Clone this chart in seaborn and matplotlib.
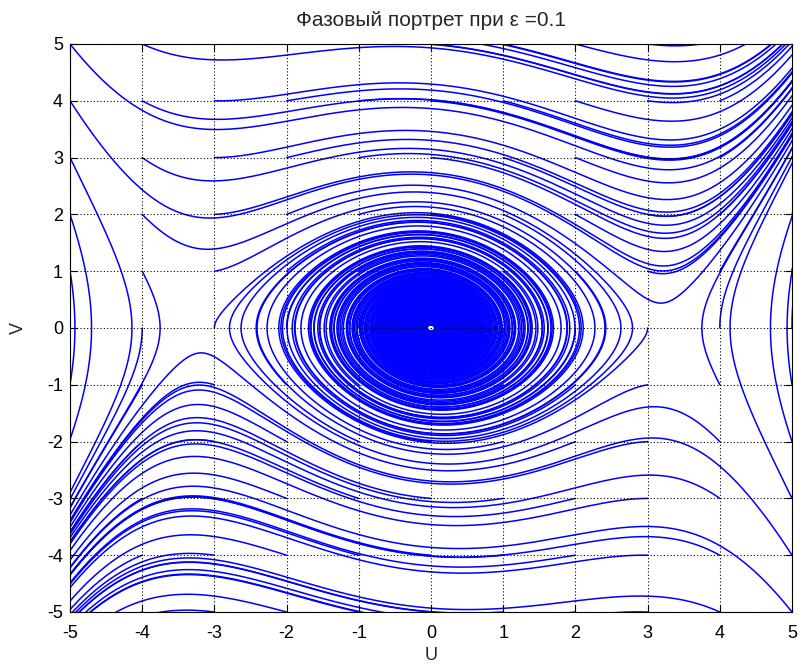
import numpy as np
import pandas as pd
import matplotlib
matplotlib.use("Agg")
import matplotlib.pyplot as plt
import seaborn as sns

# Model: u'' + eps*u' + u - u^3/10 = 0  (title: eps = 0.1)
eps = 0.1
cubic = 0.1
# initial conditions: integer grid
u_starts = [-5, -4, -3, -2, -1, 0, 1, 2, 3, 4, 5]
v_starts = [-5, -4, -3, -2, -1, 0, 1, 2, 3, 4, 5]
t_end = 60.0
dt = 0.01
ticks = [-5, -4, -3, -2, -1, 0, 1, 2, 3, 4, 5]


def rhs(u, v):
    return v, -u + cubic * u ** 3 - eps * v


U0, V0 = np.meshgrid(np.array(u_starts, float), np.array(v_starts, float))
u = U0.ravel().copy()
v = V0.ravel().copy()
n = u.size
alive = np.ones(n, bool)
rec_u = [u.copy()]
rec_v = [v.copy()]
rec_alive = [alive.copy()]
steps = int(t_end / dt)
for k in range(steps):
    k1u, k1v = rhs(u, v)
    k2u, k2v = rhs(u + dt / 2 * k1u, v + dt / 2 * k1v)
    k3u, k3v = rhs(u + dt / 2 * k2u, v + dt / 2 * k2v)
    k4u, k4v = rhs(u + dt * k3u, v + dt * k3v)
    nu = u + dt / 6 * (k1u + 2 * k2u + 2 * k3u + k4u)
    nv = v + dt / 6 * (k1v + 2 * k2v + 2 * k3v + k4v)
    u = np.where(alive, nu, u)
    v = np.where(alive, nv, v)
    if k % 2 == 1:
        rec_u.append(u.copy()); rec_v.append(v.copy()); rec_alive.append(alive.copy())
    alive = alive & (np.abs(u) < 7) & (np.abs(v) < 7)
rec_u.append(u.copy()); rec_v.append(v.copy()); rec_alive.append(alive.copy())

RU = np.array(rec_u); RV = np.array(rec_v); RA = np.array(rec_alive)
frames = []
for i in range(n):
    m = RA[:, i]
    idx = np.where(m)[0]
    last = min(idx[-1] + 1, len(m) - 1) if len(idx) else 0
    frames.append(pd.DataFrame({"u": RU[:last + 1, i], "v": RV[:last + 1, i], "traj": i}))
df = pd.concat(frames, ignore_index=True)

sns.set_style("white")
plt.rcParams["font.family"] = ["Liberation Sans", "DejaVu Sans"]

fig = plt.figure(figsize=(8.01, 6.68), dpi=100)
ax = fig.add_axes([70 / 801, 1 - 612 / 668, 722 / 801, 568 / 668])
sns.lineplot(data=df, x="u", y="v", units="traj", estimator=None, sort=False,
             color="#0000ff", lw=1.1, ax=ax, legend=False)
ax.set_xlim(-5, 5)
ax.set_ylim(-5, 5)
ax.set_xticks(ticks)
ax.set_yticks(ticks)
ax.set_xticklabels([str(t) for t in ticks])
ax.set_yticklabels([str(t) for t in ticks])
ax.grid(True, color="black", linestyle=(0, (1, 2)), linewidth=0.8)
ax.set_axisbelow(False)
for s in ax.spines.values():
    s.set_color("black"); s.set_linewidth(0.8); s.set_visible(True)
ax.tick_params(direction="in", length=5, width=0.8, labelsize=13, colors="black",
               top=True, right=True, bottom=True, left=True)
ax.tick_params(axis="x", pad=9)
ax.tick_params(axis="y", pad=5)
ax.set_xlabel("U", fontsize=13, va="center")
ax.xaxis.set_label_coords(0.5, (612 - 655) / 568)
ax.set_ylabel("V", fontsize=13, va="center")
ax.yaxis.set_label_coords((18 - 70) / 722, 0.5)
ax.set_title("Фазовый портрет при ε =0.1", fontsize=15, y=(612 - 20) / 568,
             va="center", pad=0)
fig.savefig("out.png", dpi=100)
